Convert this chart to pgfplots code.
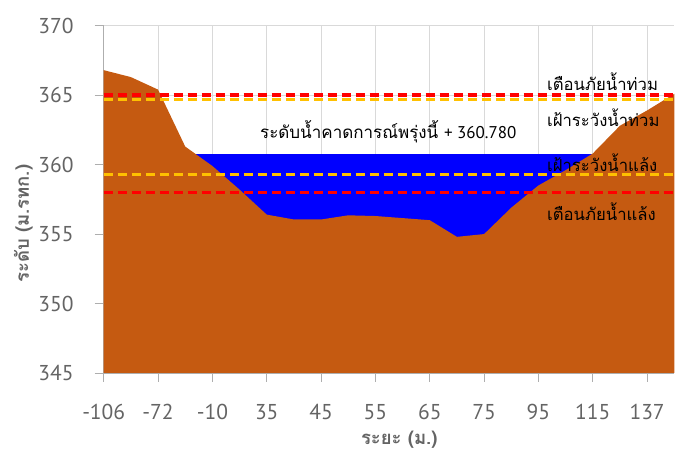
\documentclass[border=0pt]{standalone}
\usepackage{fontspec}
\setmainfont{PT Sans}
\newfontfamily\thai[Script=Thai]{Loma}
\usepackage{pgfplots}
\usepackage{pgfplotstable}
\pgfplotsset{compat=1.18}

\definecolor{ground}{RGB}{197,90,17}
\definecolor{water}{RGB}{0,0,255}
\definecolor{warn}{RGB}{255,0,0}
\definecolor{watch}{RGB}{255,192,0}
\definecolor{txtgray}{RGB}{100,100,100}
\definecolor{gridgray}{RGB}{217,217,217}

% ground profile, one point per survey station
\pgfplotstableread{
i z
0 366.8
1 366.3
2 365.4
3 361.3
4 359.9
5 358.2
6 356.4
7 356.05
8 356.05
9 356.35
10 356.3
11 356.15
12 356.0
13 354.8
14 355.0
15 356.9
16 358.5
17 359.6
18 360.8
19 362.8
20 363.9
21 365.1
}\groundtable

\begin{document}
\begin{tikzpicture}
\begin{axis}[
  scale only axis, width=570.6pt, height=347.3pt,
  xmin=0, xmax=21, ymin=345, ymax=370,
  xtick={0,2,...,20},
  xticklabels={-106,-72,-10,35,45,55,65,75,95,115,137},
  ytick={345,350,...,370},
  axis x line*=bottom, axis y line*=left,
  axis line style={gridgray!80!black, line width=0.8pt},
  tick align=outside,
  major tick length=9pt,
  tick style={gridgray!80!black, line width=0.8pt},
  grid=major,
  grid style={gridgray, line width=0.8pt},
  /pgf/number format/assume math mode=true,
  ticklabel style={font=\fontsize{21.5}{24}\selectfont, text=txtgray},
  yticklabel style={anchor=east, inner sep=0pt, xshift=-21pt},
  xticklabel style={anchor=north, inner sep=0pt, yshift=-22pt},
  xlabel={\thai\bfseries ระยะ (ม.)},
  ylabel={\thai\bfseries ระดับ (ม.รทก.)},
  label style={font=\fontsize{18.5}{22}\selectfont, text=txtgray},
  xlabel style={at={(axis description cs:0.518,-0.193)}, anchor=center},
  ylabel style={at={(axis description cs:-0.141,0.43)}, anchor=center},
]
% forecast water level 360.780 (only shows where ground is lower)
\addplot[fill=water, draw=none] coordinates {(0,360.78) (21,360.78)} \closedcycle;
\addplot[fill=ground, draw=none] table[x=i, y=z] {\groundtable} \closedcycle;

\addplot[watch, line width=3.4pt, dash pattern=on 9pt off 5pt] coordinates {(0,364.7) (21,364.7)};
\addplot[warn, line width=3.4pt, dash pattern=on 9pt off 5pt] coordinates {(0,365.0) (21,365.0)};
\addplot[watch, line width=3.4pt, dash pattern=on 9pt off 5pt] coordinates {(0,359.29) (21,359.29)};
\addplot[warn, line width=3.4pt, dash pattern=on 9pt off 5pt] coordinates {(0,358.0) (21,358.0)};

\node[anchor=base west, inner sep=0pt, font=\thai\fontsize{16.7}{19}\selectfont] at (axis cs:16.31,365.36) {เตือนภัยน้ำท่วม};
\node[anchor=base west, inner sep=0pt, font=\thai\fontsize{16.7}{19}\selectfont] at (axis cs:16.31,362.72) {เฝ้าระวังน้ำท่วม};
\node[anchor=base west, inner sep=0pt, font=\thai\fontsize{16.7}{19}\selectfont] at (axis cs:16.31,359.49) {เฝ้าระวังน้ำแล้ง};
\node[anchor=base west, inner sep=0pt, font=\thai\fontsize{16.7}{19}\selectfont] at (axis cs:16.31,356.0) {เตือนภัยน้ำแล้ง};
\node[anchor=base west, inner sep=0pt, font=\thai\fontsize{17}{20}\selectfont] at (axis cs:5.75,361.88) {ระดับน้ำคาดการณ์พรุ่งนี้ {\fontspec{PT Sans}+ 360.780}};
\end{axis}
\path (-103.7pt,-84pt) rectangle ++(683pt,457pt);
\end{tikzpicture}
\end{document}
